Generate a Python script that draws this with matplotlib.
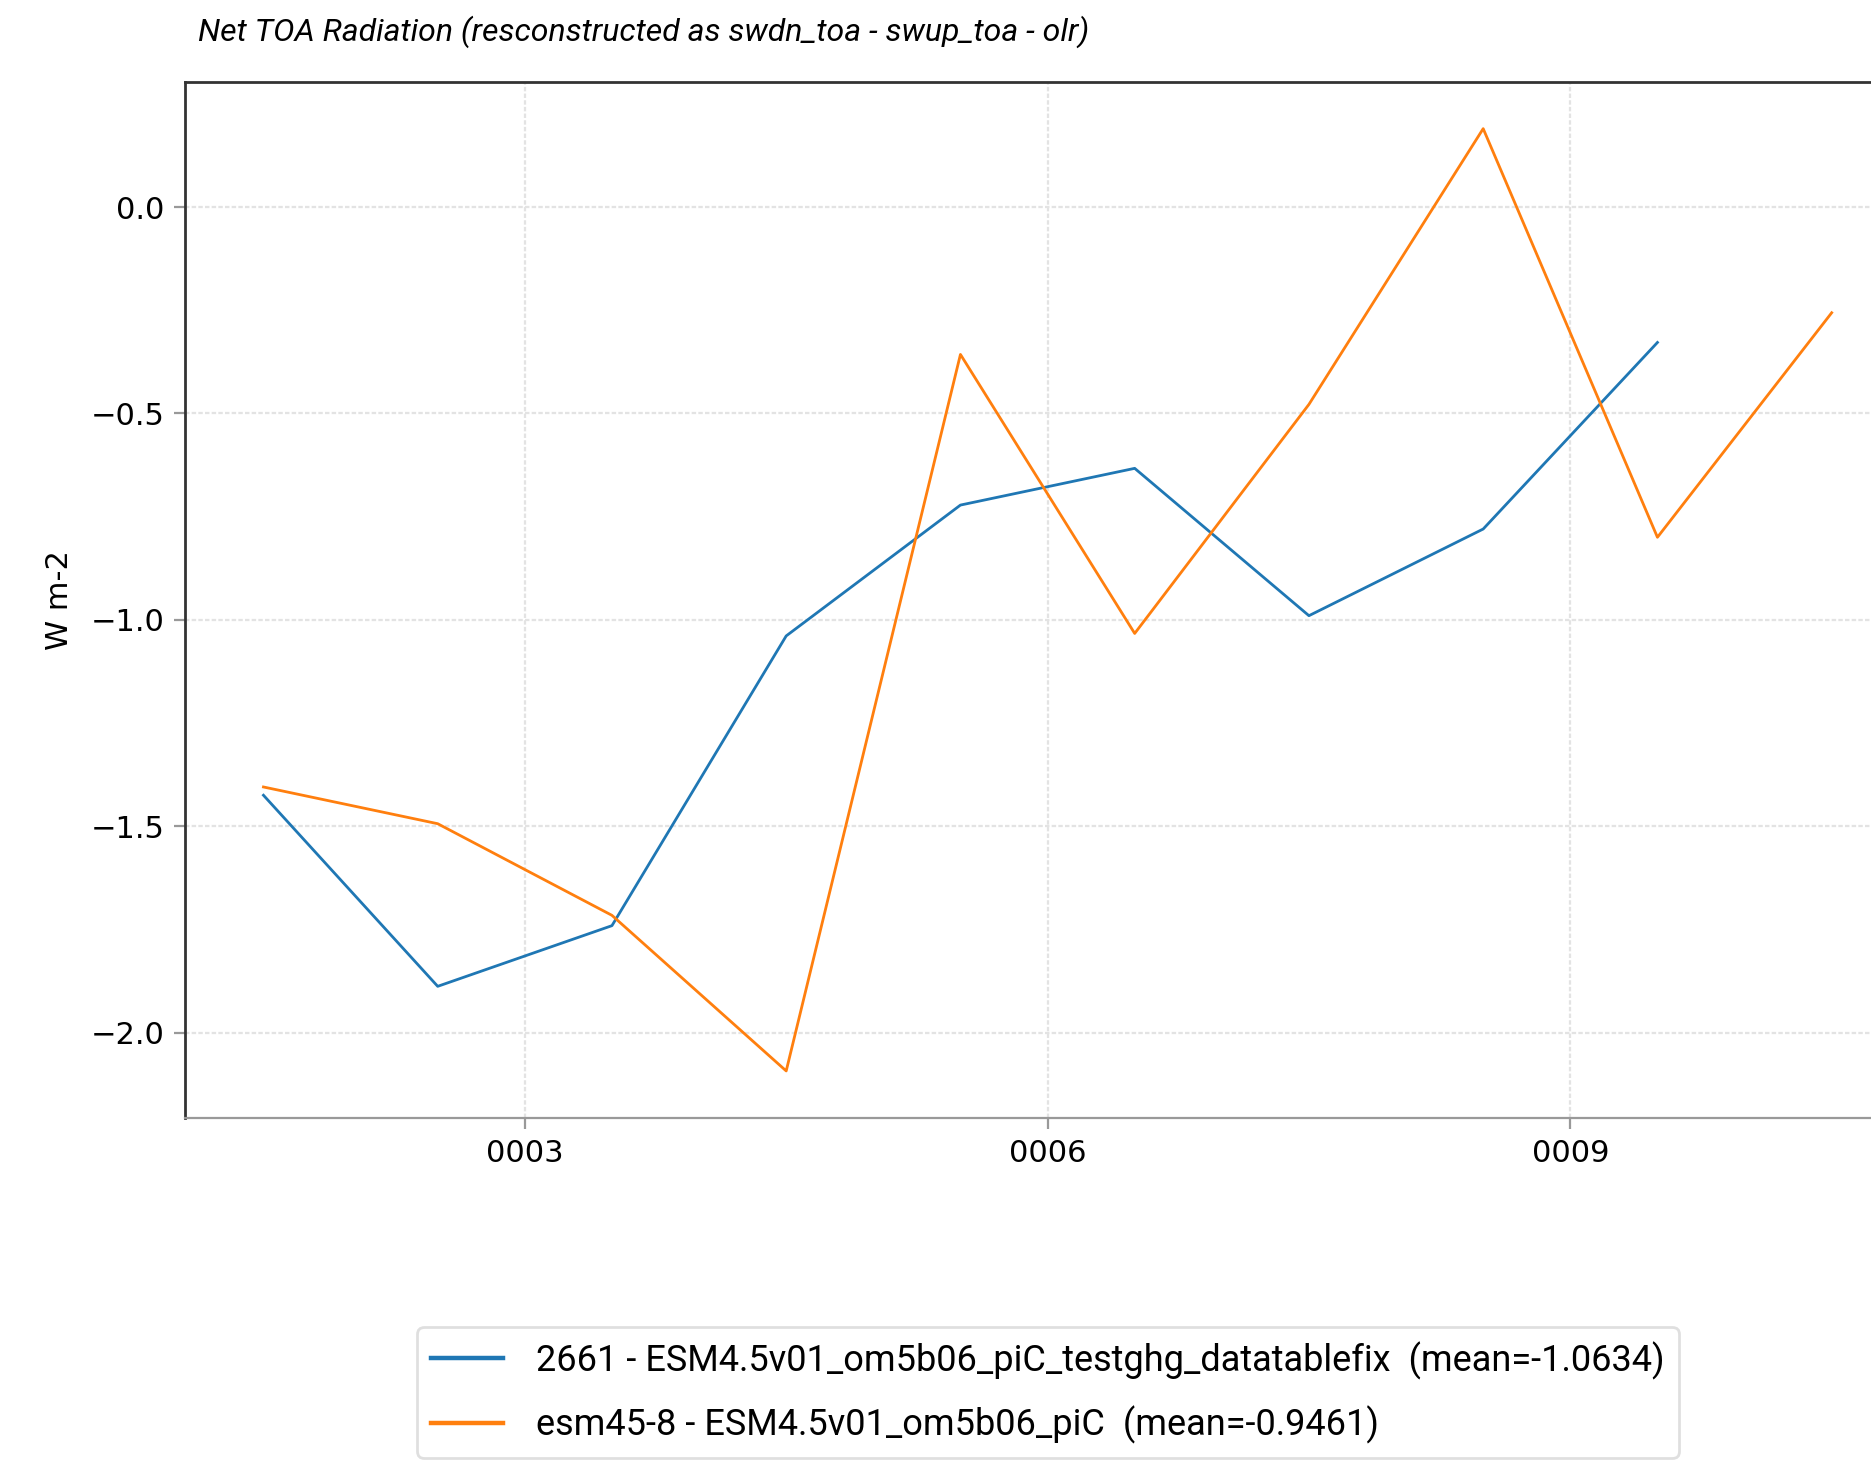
import matplotlib
matplotlib.use("Agg")
import matplotlib.pyplot as plt
from matplotlib.ticker import FuncFormatter

# mid-year positions
years_blue = [1.5, 2.5, 3.5, 4.5, 5.5, 6.5, 7.5, 8.5, 9.5]
years_orange = [1.5, 2.5, 3.5, 4.5, 5.5, 6.5, 7.5, 8.5, 9.5, 10.5]

net_blue = [-1.425, -1.888, -1.741, -1.039, -0.722, -0.633, -0.990, -0.780, -0.328]
net_orange = [-1.405, -1.494, -1.716, -2.093, -0.357, -1.033, -0.478, 0.190, -0.800, -0.256]

label_blue = "2661 - ESM4.5v01_om5b06_piC_testghg_datatablefix  (mean=-1.0634)"
label_orange = "esm45-8 - ESM4.5v01_om5b06_piC  (mean=-0.9461)"

xticks = [3, 6, 9]
yticks = [0.0, -0.5, -1.0, -1.5, -2.0]

plt.rcParams['font.family'] = ['DejaVu Sans']

fig = plt.figure(figsize=(1871 / 200, 1464 / 200), dpi=200)
ax = fig.add_axes([0.0989, 0.2363, 0.922, 0.708])

ax.plot(years_blue, net_blue, color='#1f77b4', lw=1.0, label=label_blue)
ax.plot(years_orange, net_orange, color='#ff7f0e', lw=1.0, label=label_orange)

ax.set_xlim(1.05, 10.95)
ax.set_xticks(xticks)
ax.xaxis.set_major_formatter(FuncFormatter(lambda v, p: "%04d" % int(round(v))))
ax.set_yticks(yticks)
ax.tick_params(labelsize=11, color='#999999', length=4)
ax.grid(True, color='#e3e3e3', lw=0.8, ls=(0, (2, 1)))
ax.set_ylabel("W m-2", fontsize=11, labelpad=6)

for s in ['left', 'top']:
    ax.spines[s].set_color('#333333')
    ax.spines[s].set_linewidth(1.0)
ax.spines['bottom'].set_color('#999999')
ax.spines['right'].set_visible(False)

fig.text(0.106, 0.978, "Net TOA Radiation (resconstructed as swdn_toa - swup_toa - olr)",
         fontsize=11.5, style='italic', va='center', ha='left', family=['Roboto'])

leg = fig.legend(loc='upper center', bbox_to_anchor=(0.56, 0.106), prop={'family': 'Roboto', 'size': 13},
                 frameon=True, edgecolor='#d8d8d8', fancybox=True, handlelength=2.0,
                 handletextpad=0.9, labelspacing=0.72)
for h in leg.get_lines():
    h.set_linewidth(1.6)

fig.savefig("out.png", dpi=200)
